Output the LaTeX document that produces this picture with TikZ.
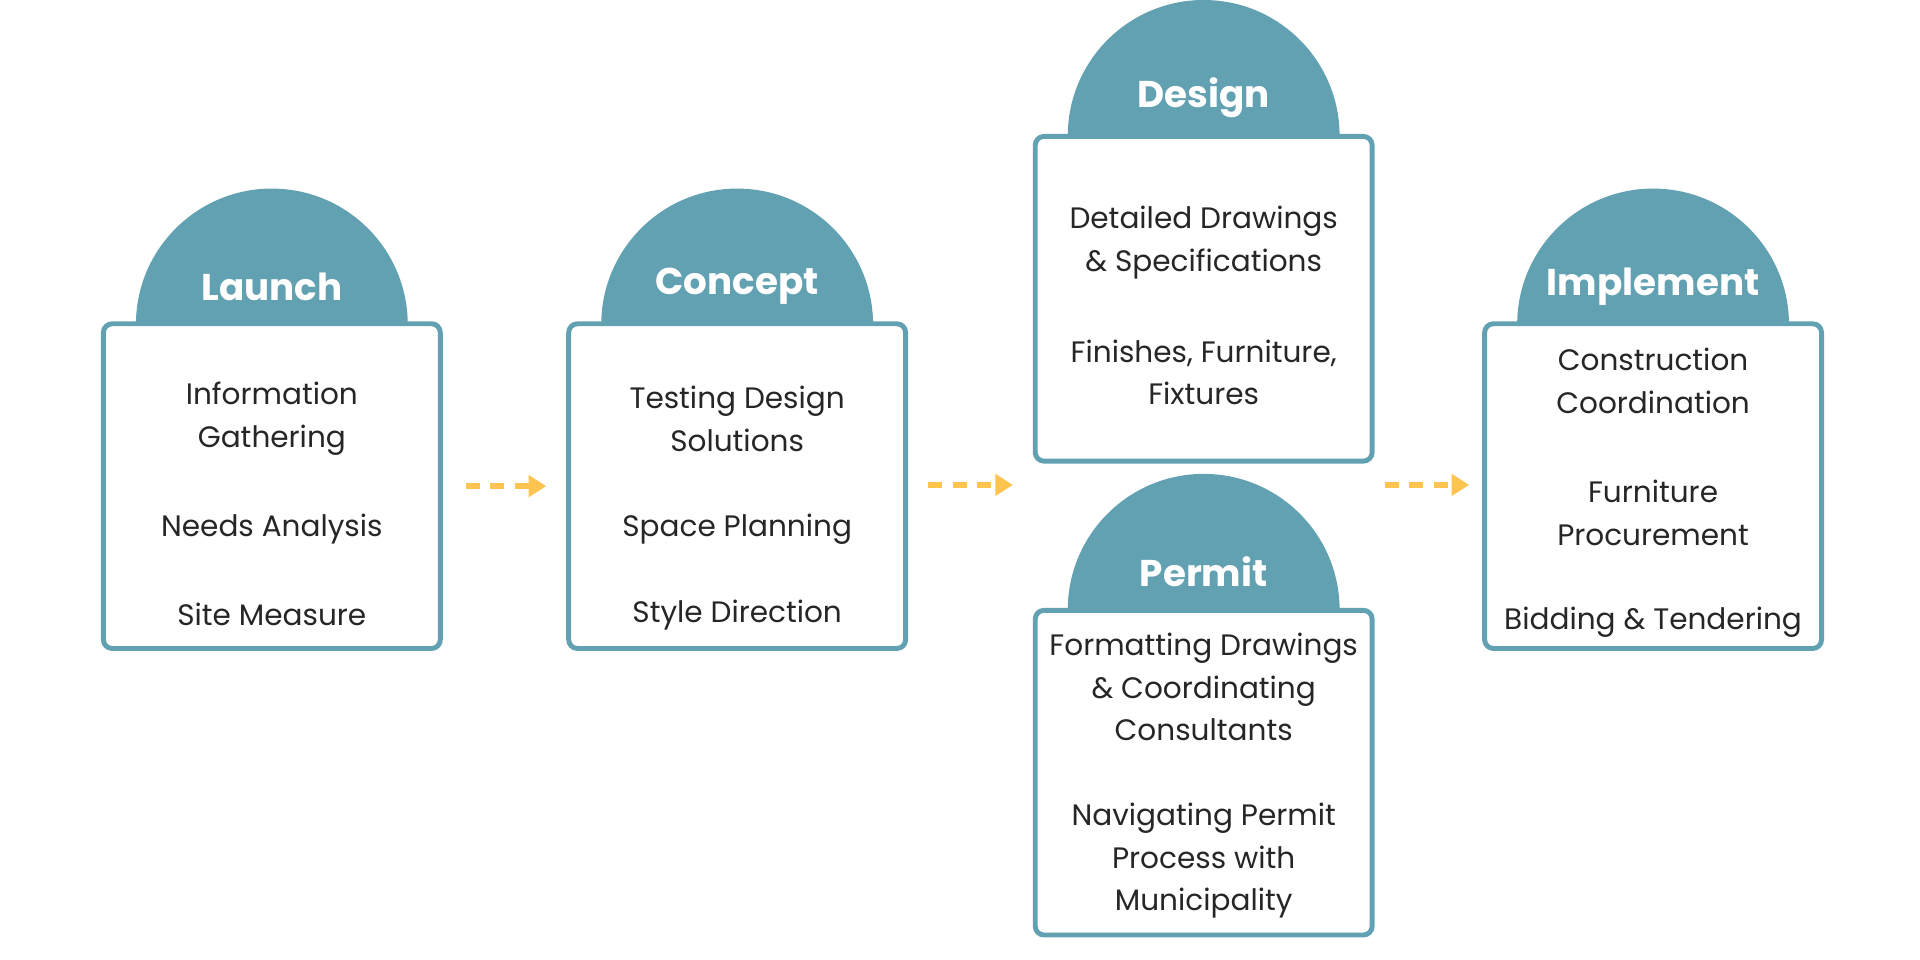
\documentclass[tikz,border=0pt]{standalone}
\usepackage{fontspec}
\setmainfont{Poppins}
\usetikzlibrary{arrows.meta}
\definecolor{teal}{HTML}{62A1B1}
\definecolor{gold}{HTML}{FFC450}
\tikzset{
  box/.style={draw=teal, line width=1.4pt, rounded corners=2.5pt, fill=white,
    minimum width=3.367cm, minimum height=3.245cm, inner sep=0pt},
  head/.style={text=white, font=\fontsize{10.6}{12}\selectfont\bfseries},
  item/.style={align=center, font=\fontsize{8.4}{12.1}\selectfont, text=black!85},
  flow/.style={gold, line width=1.5pt, dash pattern=on 4pt off 3pt, -{Triangle[length=5pt,width=6pt]}}
}
\begin{document}
\begin{tikzpicture}[x=0.012245cm, y=-0.012245cm]
  \useasboundingbox (0,0) rectangle (1568,784);

  % Headers
  \fill[teal] (111,265) arc (180:360:111) -- cycle;
  \fill[teal] (491,265) arc (180:360:111) -- cycle;
  \fill[teal] (872,111) arc (180:360:111) -- cycle;
  \fill[teal] (872,498) arc (180:360:111) -- cycle;
  \fill[teal] (1239,265) arc (180:360:111) -- cycle;

  % Boxes
  \node[box] (launch) at (222,397) {};
  \node[box] (concept) at (602,397) {};
  \node[box] (design) at (983,244) {};
  \node[box] (permit) at (983,631) {};
  \node[box] (implement) at (1350,397) {};

  % Titles
  \node[head] (tlaunch) at (222,234) {Launch};
  \node[head] (tconcept) at (602,234) {Concept};
  \node[head] (tdesign) at (983,80) {Design};
  \node[head] (tpermit) at (983,467) {Permit};
  \node[head] (timplement) at (1350,234) {Implement};

  % Launch items
  \node[item] (l1) at (222,342) {Information\\Gathering};
  \node[item] (l2) at (222,432) {Needs Analysis};
  \node[item] (l3) at (222,502) {Site Measure};

  % Concept items
  \node[item] (c1) at (602,342) {Testing Design\\Solutions};
  \node[item] (c2) at (602,432) {Space Planning};
  \node[item] (c3) at (602,502) {Style Direction};

  % Design items
  \node[item] (d1) at (983,198) {Detailed Drawings\\\& Specifications};
  \node[item] (d2) at (983,304) {Finishes, Furniture,\\Fixtures};

  % Permit items
  \node[item] (p1) at (983,561) {Formatting Drawings\\\& Coordinating\\Consultants};
  \node[item] (p2) at (983,703) {Navigating Permit\\Process with\\Municipality};

  % Implement items
  \node[item] (i1) at (1350,311) {Construction\\Coordination};
  \node[item] (i2) at (1350,419) {Furniture\\Procurement};
  \node[item] (i3) at (1350,508) {Bidding \& Tendering};

  % Arrows
  \coordinate (midl) at (846,396);
  \coordinate (midr) at (1121,396);
  \draw[flow, shorten <=19\pgflinewidth*0+0.23cm, shorten >=0.2cm] (launch.east) -- (concept.west);
  \draw[flow, shorten <=0.2cm, shorten >=0.23cm] (concept.east |- midl) -- (midl);
  \draw[flow, shorten <=0.12cm, shorten >=0.13cm] (midr) -- (implement.west |- midr);
\end{tikzpicture}
\end{document}
